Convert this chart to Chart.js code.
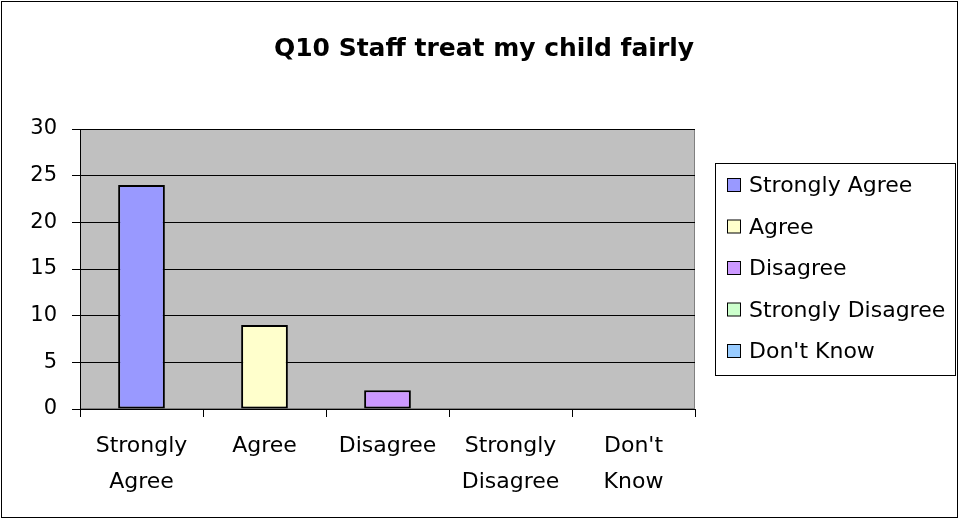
<!DOCTYPE html>
<html>
<head>
<meta charset="utf-8">
<script src="https://cdn.jsdelivr.net/npm/chart.js@4"></script>
<style>
  body { margin: 0; background: #fff; }
  canvas { display: block; }
</style>
</head>
<body>
<canvas id="q10" width="960" height="520"></canvas>
<script>
var categories = ['Strongly Agree', 'Agree', 'Disagree', 'Strongly Disagree', "Don't Know"];
var tickLabels = [['Strongly', 'Agree'], 'Agree', 'Disagree', ['Strongly', 'Disagree'], ["Don't", 'Know']];
var counts = [24, 9, 2, 0, 0];
var barColors = ['#9999FF', '#FFFFCC', '#CC99FF', '#CCFFCC', '#99CCFF'];
var titleText = 'Q10 Staff treat my child fairly';

var font = '"DejaVu Sans", sans-serif';

// grey plot area, outer frame, title and the boxed legend, Excel style
var excelLook = {
    id: 'excelLook',
    beforeDraw: function(chart) {
        var ctx = chart.ctx, a = chart.chartArea;
        ctx.save();
        ctx.fillStyle = '#fff';
        ctx.fillRect(0, 0, chart.width, chart.height);
        ctx.fillStyle = '#C0C0C0';
        ctx.fillRect(a.left, a.top, a.right - a.left, a.bottom - a.top);
        ctx.strokeStyle = '#808080';
        ctx.lineWidth = 1;
        ctx.strokeRect(a.left + 0.5, a.top + 0.5, a.right - a.left - 1, a.bottom - a.top - 1);
        ctx.restore();
    },
    afterDraw: function(chart) {
        var ctx = chart.ctx;
        ctx.save();
        ctx.strokeStyle = '#000';
        ctx.lineWidth = 1;
        ctx.strokeRect(1.5, 1.5, chart.width - 4, chart.height - 4);

        ctx.fillStyle = '#000';
        ctx.font = 'bold 25px ' + font;
        ctx.textAlign = 'center';
        ctx.textBaseline = 'alphabetic';
        ctx.fillText(titleText, 484, 56);

        var lx = 715, ly = 163, lw = 240, lh = 212;
        ctx.strokeRect(lx + 0.5, ly + 0.5, lw, lh);
        ctx.font = '22px ' + font;
        ctx.textAlign = 'left';
        var ds = chart.data.datasets[0];
        categories.forEach(function(name, i) {
            var cy = 185 + i * 41.5;
            ctx.fillStyle = ds.backgroundColor[i];
            ctx.fillRect(727.5, cy - 6.5, 13, 13);
            ctx.strokeStyle = '#000';
            ctx.strokeRect(727.5, cy - 6.5, 13, 13);
            ctx.fillStyle = '#000';
            ctx.fillText(name, 749, cy + 7);
        });
        ctx.restore();
    }
};

new Chart(document.getElementById('q10'), {
    type: 'bar',
    data: {
        labels: tickLabels,
        datasets: [{
            label: 'Q10',
            data: counts,
            backgroundColor: barColors,
            borderColor: '#000',
            borderWidth: 2,
            borderSkipped: false,
            categoryPercentage: 1,
            barPercentage: 0.38
        }]
    },
    options: {
        responsive: false,
        animation: false,
        layout: { padding: { left: 0, right: 265, top: 129, bottom: 0 } },
        plugins: {
            legend: { display: false },
            tooltip: { enabled: false },
            title: { display: false }
        },
        scales: {
            x: {
                grid: {
                    offset: true,
                    drawOnChartArea: false,
                    drawTicks: true,
                    tickLength: 8,
                    color: '#000'
                },
                border: { color: '#000', width: 1 },
                ticks: {
                    color: '#000',
                    font: { family: font, size: 22, lineHeight: 1.6 },
                    padding: 12,
                    maxRotation: 0,
                    autoSkip: false
                },
                afterFit: function(scale) { scale.height = 111; }
            },
            y: {
                min: 0,
                max: 30,
                ticks: {
                    stepSize: 5,
                    color: '#000',
                    font: { family: font, size: 21 },
                    padding: 15
                },
                grid: {
                    color: '#000',
                    drawTicks: true,
                    tickLength: 8
                },
                border: { color: '#000', width: 1 },
                afterFit: function(scale) { scale.width = 80; }
            }
        }
    },
    plugins: [excelLook]
});
</script>
</body>
</html>
